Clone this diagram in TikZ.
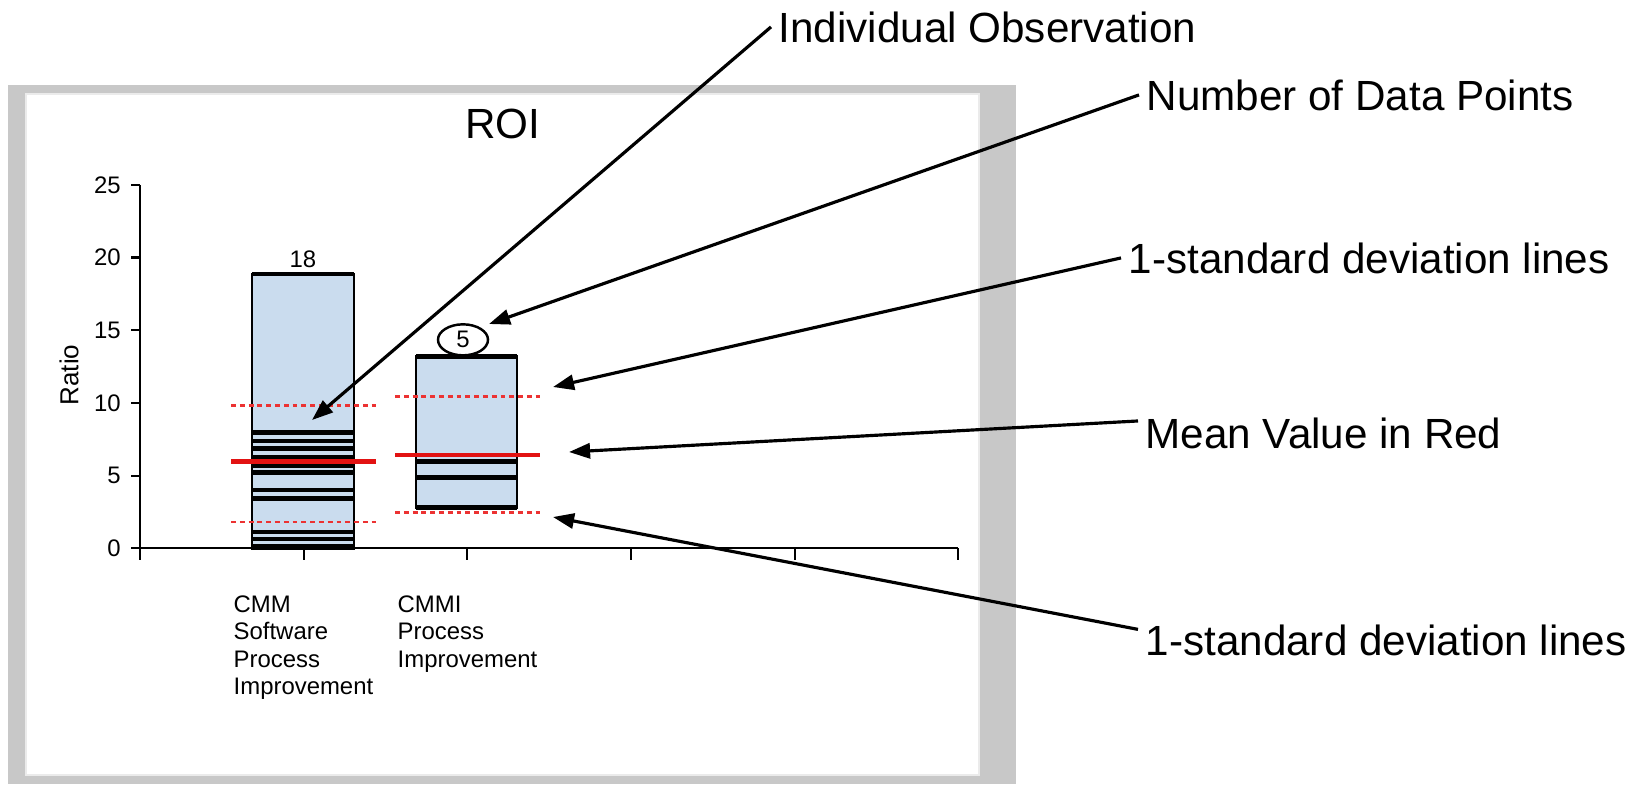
\documentclass[tikz,border=0pt]{standalone}
\usepackage{fontspec}
\setmainfont{Liberation Sans}
\usepackage{tikz}
\usetikzlibrary{arrows.meta}
\usetikzlibrary{shapes.geometric}

\definecolor{barblue}{RGB}{202,220,238}
\definecolor{framegray}{RGB}{200,200,200}
\definecolor{meanred}{RGB}{226,18,18}
\definecolor{sdred}{RGB}{236,50,50}

\begin{document}
\begin{tikzpicture}[x=0.01cm, y=-0.01cm,
    annot/.style={font=\fontsize{12}{14}\selectfont, inner sep=2pt, anchor=base west},
    pointer/.style={line width=0.9pt, -{Triangle[length=6pt,width=4.3pt]}},
    small/.style={font=\fontsize{6.8}{7.8}\selectfont},
    bar/.style={draw=black, line width=0.7pt, fill=barblue},
    obsline/.style={line width=1.3pt},
    meanline/.style={meanred, line width=1.3pt},
    sdline/.style={sdred, line width=0.8pt, dash pattern=on 1.4pt off 1.1pt}]
    \useasboundingbox (0,0) rectangle (1642,784);

    % Frame
    \fill [framegray] (8,85) rectangle (1016,784);
    \filldraw [fill=white, draw=black!8, line width=0.6pt] (26,94) rectangle (979,775);

    \node [font=\fontsize{12}{14}\selectfont] (title) at (503,124) {ROI};
    \node [font=\fontsize{7.4}{9}\selectfont, rotate=90] (ylab) at (69,375) {Ratio};

    % Chart, in data units
    \begin{scope}[shift={(0,548.3)}, y=0.1453cm]
      \draw [line width=0.6pt] (140,25) -- (140,-0.8);
      \draw [line width=0.6pt] (140,0) -- (958,0);
      \foreach \t in {0,5,...,25} {
        \draw [line width=0.6pt] (131,\t) -- (140,\t);
        \node [small, anchor=east, inner sep=1pt] (tick\t) at (125,\t) {\t};
      }
      \foreach \x in {304,467,631,795,958}
        \draw [line width=0.6pt] (\x,0) -- (\x,-0.8);

      % CMM
      \draw [bar] (252,0) rectangle (354,18.86);
      \foreach \v in {18.86,7.96,7.38,6.88,6.24,5.68,5.20,4.01,3.41,1.12,0.64,0.12}
        \draw [obsline] (252,\v) -- (354,\v);
      \draw [sdline] (231,9.82) -- (376,9.82);
      \draw [sdline] (231,1.81) -- (376,1.81);
      \draw [meanline] (231,5.98) -- (376,5.98);
      \node [small] (count1) at (303,19.85) {18};

      % CMMI
      \draw [bar] (416,2.82) rectangle (517,13.19);
      \foreach \v in {13.19,5.98,4.89,2.82}
        \draw [obsline] (416,\v) -- (517,\v);
      \draw [sdline] (395,10.43) -- (540,10.43);
      \draw [sdline] (395,2.45) -- (540,2.45);
      \draw [meanline] (395,6.42) -- (540,6.42);
      \node [small, draw, ellipse, line width=0.7pt, inner sep=0pt,
        minimum width=0.5cm, minimum height=0.31cm] (count2) at (463,14.34) {5};
    \end{scope}

    \node [small, anchor=north west, align=left, inner sep=0pt] (cat1) at (233,595)
      {CMM\\Software\\Process\\Improvement};
    \node [small, anchor=north west, align=left, inner sep=0pt] (cat2) at (397,595)
      {CMMI\\Process\\Improvement};

    % Callouts
    \node [annot] (indobs) at (771,42) {Individual Observation};
    \node [annot] (numpts) at (1139,110) {Number of Data Points};
    \node [annot] (sdup) at (1121,273) {1-standard deviation lines};
    \node [annot] (meanval) at (1138,448) {Mean Value in Red};
    \node [annot] (sdlow) at (1138,655) {1-standard deviation lines};

    \coordinate (obstip) at (312,420);
    \coordinate (numtip) at (489,324);
    \coordinate (uptip) at (553,387);
    \coordinate (meantip) at (569,452);
    \coordinate (lowtip) at (553,517);

    \draw [pointer] (indobs.west) -- (obstip);
    \draw [pointer] (numpts.west) -- (numtip);
    \draw [pointer] (sdup.west) -- (uptip);
    \draw [pointer] ([yshift=3.4pt]meanval.west) -- (meantip);
    \draw [pointer] ([yshift=3pt]sdlow.west) -- (lowtip);
\end{tikzpicture}
\end{document}
